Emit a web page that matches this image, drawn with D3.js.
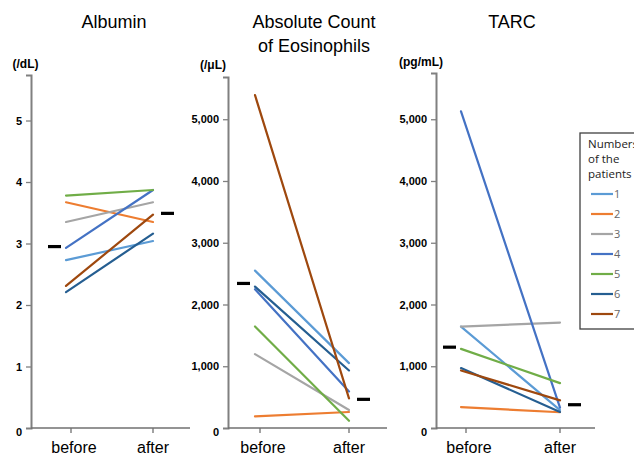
<!DOCTYPE html>
<html>
<head>
<meta charset="utf-8">
<script src="https://cdn.jsdelivr.net/npm/d3@7"></script>
<style>
  body { margin: 0; background: #fff; }
  svg { display: block; font-family: "Liberation Sans", Arial, sans-serif; }
</style>
</head>
<body>
<script>
// data
const patients = ['1', '2', '3', '4', '5', '6', '7'];
const colors = ['#5B9BD5', '#ED7D31', '#A5A5A5', '#4472C4', '#70AD47', '#255E91', '#9E480E'];
const periods = ['before', 'after'];

const albuminBefore = [2.73, 3.67, 3.35, 2.93, 3.78, 2.21, 2.31];
const albuminAfter = [3.04, 3.35, 3.67, 3.87, 3.87, 3.16, 3.47];
const albuminMean = [2.95, 3.49];
const albuminTicks = [0, 1, 2, 3, 4, 5];

const eosBefore = [2549, 189, 1196, 2247, 1643, 2290, 5390];
const eosAfter = [1051, 259, 291, 593, 118, 932, 480];
const eosMean = [2341, 464];
const eosTicks = [0, 1000, 2000, 3000, 4000, 5000];

const tarcBefore = [1643, 339, 1643, 5129, 1282, 970, 932];
const tarcAfter = [290, 255, 1708, 330, 727, 260, 447];
const tarcMean = [1309, 377];
const tarcTicks = [0, 1000, 2000, 3000, 4000, 5000];

const W = 634, H = 455;
const svg = d3.select('body').append('svg').attr('width', W).attr('height', H);

// 1. one panel per measurement
function panel(opt) {
  const y = d3.scaleLinear().domain([0, opt.ymax]).range([428, opt.top]);
  const x = d3.scalePoint().domain(periods).range([opt.bx, opt.ax]);
  const g = svg.append('g');

  // title + unit
  opt.title.forEach((t, i) => {
    g.append('text').attr('x', opt.tx).attr('y', 28 + i * 23.5)
      .attr('text-anchor', 'middle').attr('font-size', 18).attr('fill', '#000').text(t);
  });
  g.append('text').attr('x', opt.ux).attr('y', opt.uy)
    .attr('text-anchor', 'middle').attr('font-size', 12).attr('font-weight', 'bold').text(opt.unit);

  // y axis
  const yAxis = g.append('g').attr('transform', `translate(${opt.left},0)`)
    .call(d3.axisLeft(y).tickValues(opt.ticks).tickSize(5).tickPadding(4)
      .tickFormat(opt.fmt));
  yAxis.select('.domain').attr('stroke', '#808080').attr('stroke-width', 2);
  yAxis.selectAll('.tick line').attr('stroke', '#808080').attr('stroke-width', 1.3);
  yAxis.selectAll('.tick text').attr('font-size', 11).attr('font-weight', 'bold')
    .attr('fill', '#000').attr('font-family', '"Liberation Sans", Arial, sans-serif');
  yAxis.selectAll('.tick').filter(d => d === 0).select('line').remove();
  yAxis.selectAll('.tick').filter(d => d === 0).select('text').attr('dy', '0.7em');

  // x axis
  const xAxis = g.append('g').attr('transform', 'translate(0,428)');
  xAxis.append('line').attr('x1', opt.left).attr('x2', opt.left + 159)
    .attr('stroke', '#707070').attr('stroke-width', 1.5);
  xAxis.selectAll('line.t').data(periods).join('line').attr('class', 't')
    .attr('x1', d => x(d)).attr('x2', d => x(d)).attr('y1', 0).attr('y2', 5)
    .attr('stroke', '#707070').attr('stroke-width', 1.3);
  xAxis.selectAll('text').data(periods).join('text')
    .attr('x', d => x(d) + (d === 'before' ? 3 : 0)).attr('y', 25)
    .attr('text-anchor', 'middle').attr('font-size', 16).attr('fill', '#000').text(d => d);

  // patient lines
  const rows = patients.map((p, i) => ({ p, c: colors[i], v: [opt.before[i], opt.after[i]] }));
  g.selectAll('line.p').data(rows).join('line').attr('class', 'p')
    .attr('x1', x('before') - 5).attr('x2', x('after'))
    .attr('y1', d => y(d.v[0])).attr('y2', d => y(d.v[1]))
    .attr('stroke', d => d.c).attr('stroke-width', 2.2).attr('stroke-linecap', 'round');

  // mean markers
  g.selectAll('rect.m').data(periods).join('rect').attr('class', 'm')
    .attr('x', d => d === 'before' ? x(d) - 23 : x(d) + 8)
    .attr('y', (d, i) => y(opt.mean[i]) - 1.6)
    .attr('width', 13).attr('height', 3.2).attr('fill', '#000');
}

panel({ title: ['Albumin'], tx: 114, unit: '(/dL)', ux: 25.5, uy: 68,
  left: 31, top: 75, ymax: 5.74, bx: 71, ax: 153, ticks: albuminTicks, fmt: d3.format('d'),
  before: albuminBefore, after: albuminAfter, mean: albuminMean });
panel({ title: ['Absolute Count', 'of Eosinophils'], tx: 314, unit: '(/μL)', ux: 213, uy: 69,
  left: 228, top: 77, ymax: 5684, bx: 260, ax: 349, ticks: eosTicks, fmt: d3.format(','),
  before: eosBefore, after: eosAfter, mean: eosMean });
panel({ title: ['TARC'], tx: 512, unit: '(pg/mL)', ux: 421, uy: 66,
  left: 436, top: 73, ymax: 5749, bx: 466, ax: 560, ticks: tarcTicks, fmt: d3.format(','),
  before: tarcBefore, after: tarcAfter, mean: tarcMean });

// 2. legend box
const lg = svg.append('g').attr('transform', 'translate(580,133)');
lg.append('rect').attr('x', 0).attr('y', 0).attr('width', 70).attr('height', 196)
  .attr('fill', '#fff').attr('stroke', '#404040').attr('stroke-width', 1.3);
['Numbers', 'of the', 'patients'].forEach((t, i) => {
  lg.append('text').attr('x', 8).attr('y', 15 + i * 15).attr('font-size', 11.5)
    .attr('font-family', '"Open Sans", sans-serif').attr('fill', '#222').text(t);
});
const item = lg.selectAll('g.item').data(patients).join('g').attr('class', 'item')
  .attr('transform', (d, i) => `translate(0,${61 + i * 20})`);
item.append('line').attr('x1', 11).attr('x2', 33).attr('y1', 0).attr('y2', 0)
  .attr('stroke', (d, i) => colors[i]).attr('stroke-width', 2.2);
item.append('text').attr('x', 34).attr('y', 4).attr('font-size', 11)
  .attr('font-family', '"Open Sans", sans-serif').attr('fill', '#666').text(d => d);
</script>
</body>
</html>
